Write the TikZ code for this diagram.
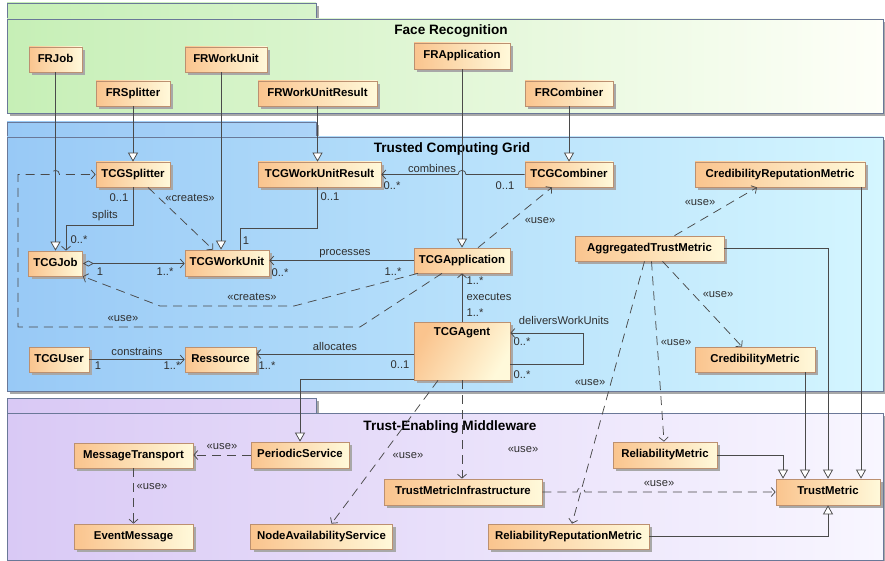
\documentclass[tikz,border=0pt]{standalone}
\usepackage{fontspec}
\setmainfont{Liberation Sans}
\usetikzlibrary{arrows.meta,shadows,calc}
\definecolor{nodeL}{HTML}{FAC48E}
\definecolor{nodeR}{HTML}{FFF9DA}
\definecolor{nodeB}{HTML}{BC9070}
\definecolor{pkgB}{HTML}{6A7898}
\definecolor{frL}{HTML}{C6EFB6}
\definecolor{frR}{HTML}{FEFFF8}
\definecolor{tcgL}{HTML}{98C9F6}
\definecolor{tcgR}{HTML}{D4F6FF}
\definecolor{mwL}{HTML}{D9C9F5}
\definecolor{mwR}{HTML}{F8F6FF}
\definecolor{lc}{HTML}{4A4A4A}
\definecolor{txt}{HTML}{303030}
\definecolor{shd}{HTML}{A8A8A8}
\tikzset{
  cls/.style={draw=nodeB, line width=0.7pt, left color=nodeL, right color=nodeR,
    inner sep=0pt, text height=9pt, text depth=3.5pt,
    font=\bfseries\fontsize{11.4}{13}\selectfont,
    drop shadow={shadow xshift=3pt, shadow yshift=-3pt, fill=shd, opacity=1}},
  lbl/.style={font=\fontsize{11.2}{13}\selectfont, text=txt, inner sep=0pt},
  ptitle/.style={font=\bfseries\fontsize{13.6}{16}\selectfont, inner sep=0pt, anchor=base},
  conn/.style={draw=lc, line width=0.75pt},
  dep/.style={conn, dash pattern=on 9pt off 6pt},
  nav/.style={-{Straight Barb[length=4pt,width=9pt]}},
  gen/.style={-{Triangle[length=9pt,width=10pt,fill=white]}},
  pkgbox/.style={draw=pkgB, line width=0.8pt},
}
\begin{document}
\begin{tikzpicture}[x=1pt,y=-1pt]
\useasboundingbox (0,0) rectangle (885,561);
% ---------------- packages ----------------
% Face Recognition
\fill[shd] (10,6) rectangle (319,22);
\fill[shd] (10,22) rectangle (887,116);
\path[pkgbox, left color=frL, right color=frL!70!white] (7,3) rectangle (316,19);
\path[pkgbox, left color=frL, right color=frR] (7,19) rectangle (883,113);
\node[ptitle] (frtitle) at (451,35) {Face Recognition};
% Trusted Computing Grid
\fill[shd] (10,125) rectangle (319,140);
\fill[shd] (10,140) rectangle (887,394);
\path[pkgbox, left color=tcgL, right color=tcgL!80!white] (7,122) rectangle (316,137);
\path[pkgbox, left color=tcgL, right color=tcgR] (7,137) rectangle (883,391);
\node[ptitle] (tcgtitle) at (452,153) {Trusted Computing Grid};
% Trust-Enabling Middleware
\fill[shd] (10,401) rectangle (319,416);
\fill[shd] (10,416) rectangle (887,563);
\path[pkgbox, left color=mwL, right color=mwL!80!white] (7,398) rectangle (316,413);
\path[pkgbox, left color=mwL, right color=mwR] (7,413) rectangle (883,560);
\node[ptitle] (mwtitle) at (450,430) {Trust-Enabling Middleware};

% ---------------- nodes ----------------
\node[cls, minimum width=53pt, minimum height=25pt] (frjob) at (55.5,59.5) {FRJob};
\node[cls, minimum width=74pt, minimum height=25pt] (frspl) at (133,93.5) {FRSplitter};
\node[cls, minimum width=82pt, minimum height=25pt] (frwu) at (226,59.5) {FRWorkUnit};
\node[cls, minimum width=119pt, minimum height=25pt] (frwur) at (317.5,93.5) {FRWorkUnitResult};
\node[cls, minimum width=96pt, minimum height=26pt] (frapp) at (462,56) {FRApplication};
\node[cls, minimum width=88pt, minimum height=25pt] (frcomb) at (569,93.5) {FRCombiner};

\node[cls, minimum width=74pt, minimum height=25pt] (tcgspl) at (133,174.5) {TCGSplitter};
\node[cls, minimum width=123pt, minimum height=25pt] (tcgwur) at (319.5,174.5) {TCGWorkUnitResult};
\node[cls, minimum width=88pt, minimum height=25pt] (tcgcomb) at (569,174.5) {TCGCombiner};
\node[cls, minimum width=170pt, minimum height=25pt] (crm) at (780,174.5) {CredibilityReputationMetric};
\node[cls, minimum width=54pt, minimum height=25pt] (tcgjob) at (55.5,263.5) {TCGJob};
\node[cls, minimum width=84pt, minimum height=26pt] (tcgwu) at (227,263) {TCGWorkUnit};
\node[cls, minimum width=96pt, minimum height=25pt] (tcgapp) at (462,260.5) {TCGApplication};
\node[cls, minimum width=149pt, minimum height=25pt] (atm) at (649.5,248.5) {AggregatedTrustMetric};
\node[cls, minimum width=120pt, minimum height=25pt] (cm) at (755,359.5) {CredibilityMetric};
\node[cls, minimum width=60pt, minimum height=25pt] (tcguser) at (59,359.5) {TCGUser};
\node[cls, minimum width=71pt, minimum height=25pt] (res) at (220.5,359.5) {Ressource};
\node[cls, minimum width=96pt, minimum height=58pt, shading angle=60] (agent) at (462,351) {};

\node[cls, minimum width=119pt, minimum height=25pt] (mt) at (133.5,455.5) {MessageTransport};
\node[cls, minimum width=98pt, minimum height=26pt] (ps) at (300,455) {PeriodicService};
\node[cls, minimum width=119pt, minimum height=25pt] (em) at (133.5,536.5) {EventMessage};
\node[cls, minimum width=142pt, minimum height=25pt] (nas) at (321.5,536.5) {NodeAvailabilityService};
\node[cls, minimum width=158pt, minimum height=26pt] (tmi) at (463,492) {TrustMetricInfrastructure};
\node[cls, minimum width=104pt, minimum height=26pt] (rm) at (665,455) {ReliabilityMetric};
\node[cls, minimum width=104pt, minimum height=26pt] (tm) at (828,492) {TrustMetric};
\node[cls, minimum width=161pt, minimum height=25pt] (rrm) at (568.5,536.5) {ReliabilityReputationMetric};

\node[font=\bfseries\fontsize{11.4}{13}\selectfont, inner sep=0pt, anchor=base] (agentlbl) at (462,335) {TCGAgent};

% ---------------- connectors ----------------
\begin{scope}[on background layer/.style={}]
% generalizations FR -> TCG
\draw[conn,gen] (frjob.south) -- (frjob.south |- tcgjob.north);
\draw[conn,gen] (frspl.south) -- (tcgspl.north);
\draw[conn,gen] ([xshift=-5pt]frwu.south) -- ([xshift=-5pt]frwu.south |- tcgwu.north);
\draw[conn,gen] (frwur.south) -- (frwur.south |- tcgwur.north);
\draw[conn,gen] (frapp.south) -- (tcgapp.north);
\draw[conn,gen] (frcomb.south) -- (tcgcomb.north);
\end{scope}

% splits
\coordinate (splitc) at (66,225);
\draw[conn,nav] (tcgspl.south) |- (splitc) -- (splitc |- tcgjob.north);
\node[lbl] (l1) at (119,198) {0..1};
\node[lbl] (l2) at (105,216) {splits};
\node[lbl] (l3) at (79,240) {0..*};

% creates splitter -> workunit
\draw[dep,nav] ([xshift=15pt]tcgspl.south) -- ([xshift=-14pt]tcgwu.north);
\node[lbl] (l4) at (190,198) {«creates»};

% aggregation job -> workunit
\draw[conn,{Diamond[open,length=11pt,width=6pt]}-{Straight Barb[length=4pt,width=9pt]}] (tcgjob.east) -- (tcgjob.east -| tcgwu.west);
\node[lbl] (l5) at (100,272) {1};
\node[lbl] (l6) at (165,272) {1..*};

% workunitresult - workunit
\coordinate (wuc) at (240,228);
\draw[conn] ([xshift=-2pt]tcgwur.south) |- (wuc) -- (wuc |- tcgwu.north);
\node[lbl] (l7) at (330,197) {0..1};
\node[lbl] (l8) at (246,241) {1};

% combines
\draw[conn,nav] (tcgcomb.west) -- (466,174.5) .. controls (466,169) and (458,169) .. (458,174.5) -- (tcgwur.east);
\node[lbl] (l9) at (432,168) {combines};
\node[lbl] (l10) at (392,186) {0..*};
\node[lbl] (l11) at (505,186) {0..1};

% processes
\draw[conn,nav] (tcgapp.west) -- (tcgapp.west -| tcgwu.east);
\node[lbl] (l12) at (345,254) {processes};
\node[lbl] (l13) at (280,273) {0..*};
\node[lbl] (l14) at (393,272) {1..*};

% use app -> combiner
\draw[dep,nav] ([xshift=16pt]tcgapp.north) -- ([xshift=-17pt]tcgcomb.south);
\node[lbl] (l15) at (540,221) {«use»};

% creates app -> job
\coordinate (cr1) at (294,306);
\coordinate (cr2) at (160,306);
\draw[dep,nav] ([xshift=-44pt]tcgapp.south) -- (cr1) -- (cr2) -- (tcgjob.south east);
\node[lbl] (l16) at (252,297) {«creates»};

% use app -> splitter
\coordinate (u1) at (360,327);
\coordinate (u2) at (18,327);
\coordinate (u3) at (18,174.5);
\draw[dep,nav] ([xshift=-20pt]tcgapp.south) -- (u1) -- (u2) -- (u3) -- (51.5,174.5) .. controls (51.5,169) and (59.5,169) .. (59.5,174.5) -- (tcgspl.west);
\node[lbl] (l17) at (123,319) {«use»};

% constrains
\draw[conn,nav] (tcguser.east) -- (tcguser.east -| res.west);
\node[lbl] (l18) at (137,351) {constrains};
\node[lbl] (l19) at (98,366) {1};
\node[lbl] (l20) at (172,366) {1..*};

% allocates
\draw[conn,nav] ([yshift=-3pt]agent.west) -- ([yshift=-3pt]agent.west -| res.east);
\node[lbl] (l21) at (335,346) {allocates};
\node[lbl] (l22) at (400,365) {0..1};
\node[lbl] (l23) at (267,366) {1..*};

% executes
\draw[conn,nav] (agent.north) -- (tcgapp.south);
\node[lbl] (l24) at (475,281) {1..*};
\node[lbl] (l25) at (489,297) {executes};
\node[lbl] (l26) at (475,313) {1..*};

% deliversWorkUnits (self)
\draw[conn,nav] ([yshift=-13pt]agent.east) -- ++(73,0) |- ([yshift=18pt]agent.east);
\node[lbl] (l27) at (564,320) {deliversWorkUnits};
\node[lbl] (l28) at (522,342) {0..*};
\node[lbl] (l29) at (522,375) {0..*};

% generalization agent -> periodic service
\draw[conn,gen] ([yshift=-28pt]agent.west) -| (ps.north);

% use agent -> node availability
\draw[dep,nav] ([xshift=-24pt]agent.south) -- ([xshift=10pt]nas.north);
\node[lbl] (l30) at (408,456) {«use»};

% use agent -> infrastructure
\draw[dep,nav] (agent.south) -- (agent.south |- tmi.north);
\node[lbl] (l31) at (523,450) {«use»};

% aggregated trust metric uses
\draw[dep,nav] ([xshift=25pt]atm.north) -- ([xshift=-23pt]crm.south);
\node[lbl] (l32) at (700,203) {«use»};
\draw[dep,nav] ([xshift=13pt]atm.south) -- ([xshift=-13pt]cm.north);
\node[lbl] (l33) at (718,295) {«use»};
\draw[dep,nav] ([xshift=2pt]atm.south) -- ([xshift=-1pt]rm.north);
\node[lbl] (l34) at (676,343) {«use»};
\draw[dep,nav] ([xshift=-5pt]atm.south) -- ([xshift=3.5pt]rrm.north);
\node[lbl] (l35) at (590,383) {«use»};

% infrastructure -> trust metric
\draw[dep,nav] (tmi.east) -- (577,492) .. controls (577,486.5) and (585,486.5) .. (585,492) -- (tm.west);
\node[lbl] (l36) at (659,484) {«use»};

% generalizations to TrustMetric
\draw[conn,gen] ([xshift=81pt]crm.south) -- ([xshift=81pt]crm.south |- tm.north);
\draw[conn,gen] (rm.east) -| ([xshift=-45pt]tm.north);
\draw[conn,gen] ([xshift=50pt]cm.south) -- ([xshift=50pt]cm.south |- tm.north);
\draw[conn,gen] (atm.east) -| (tm.north);
\draw[conn,gen] (rrm.east) -| (tm.south);

% middleware uses
\draw[dep,nav] (ps.west) -- (ps.west -| mt.east);
\node[lbl] (l37) at (222,447) {«use»};
\draw[dep,nav] (mt.south) -- (em.north);
\node[lbl] (l38) at (152,487) {«use»};
\end{tikzpicture}
\end{document}
